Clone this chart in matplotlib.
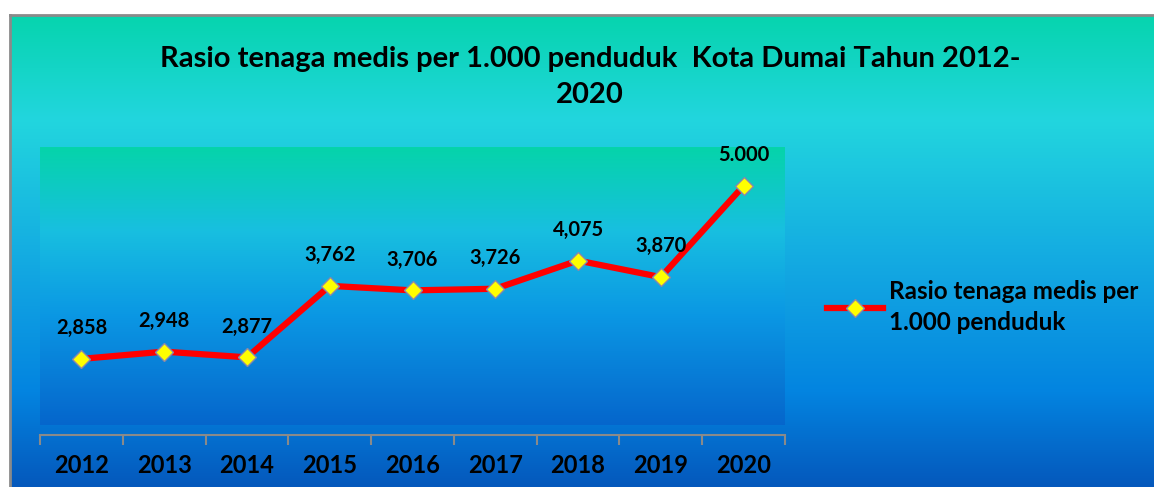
import matplotlib
matplotlib.use("Agg")
import matplotlib.pyplot as plt
import numpy as np
from matplotlib.colors import LinearSegmentedColormap

years = ["2012", "2013", "2014", "2015", "2016", "2017", "2018", "2019", "2020"]
rasio = [2.858, 2.948, 2.877, 3.762, 3.706, 3.726, 4.075, 3.870, 5.000]
labels = ["2,858", "2,948", "2,877", "3,762", "3,706", "3,726", "4,075", "3,870", "5.000"]
series_name = "Rasio tenaga medis per\n1.000 penduduk"
title = "Rasio tenaga medis per 1.000 penduduk  Kota Dumai Tahun 2012-\n2020"

plt.rcParams['font.family'] = ['Lato', 'DejaVu Sans']

W, H = 1154, 487
fig = plt.figure(figsize=(W / 100, H / 100), dpi=100)
fig.patch.set_facecolor("white")

# outer chart background gradient
outer = LinearSegmentedColormap.from_list("outer", [
    (0.0, "#06d4ae"), (0.22, "#22d6de"), (0.55, "#12a6e2"), (0.8, "#0384e0"), (1.0, "#0558bc")])
bg = fig.add_axes([10 / W, 0, 1 - 10 / W, (H - 15) / H])
bg.imshow(np.linspace(0, 1, 256).reshape(-1, 1), aspect="auto", cmap=outer,
          extent=[0, 1, 0, 1])
bg.set_xticks([])
bg.set_yticks([])
for s in bg.spines.values():
    s.set_color("#8a8a8a")
    s.set_linewidth(2)
bg.spines["right"].set_visible(False)
bg.spines["bottom"].set_visible(False)

# plot area
x0, x1, y0, y1 = 40, 785, 147, 425
ax = fig.add_axes([x0 / W, 1 - y1 / H, (x1 - x0) / W, (y1 - y0) / H])
inner = LinearSegmentedColormap.from_list("inner", [
    (0.0, "#05d4aa"), (0.3, "#18bfe0"), (0.6, "#0b98e4"), (1.0, "#0566cc")])
ax.imshow(np.linspace(0, 1, 256).reshape(-1, 1), aspect="auto", cmap=inner,
          extent=[-0.5, 8.5, 2.04, 5.48], zorder=0)

x = np.arange(len(years))
ax.plot(x, rasio, color="red", lw=4.5, marker="D", ms=9, mfc="yellow",
        mec="#8888aa", mew=1, zorder=3, label=series_name)
for xi, v, t in zip(x, rasio, labels):
    ax.annotate(t, (xi, v), xytext=(0, 15), textcoords="offset points",
                ha="center", va="bottom", fontsize=14.5, fontweight="bold", color="black")

ax.set_xlim(-0.5, 8.5)
ax.set_ylim(2.04, 5.48)
ax.set_yticks([])
ax.set_xticks(np.arange(-0.5, 9, 1))
ax.set_xticklabels([])
ax.tick_params(axis="x", which="major", length=7, width=1.5, color="#8a8a8a", direction="out")
for xi, yr in zip(x, years):
    ax.text(xi, -0.145, yr, transform=ax.get_xaxis_transform(), ha="center", va="center",
            fontsize=17, fontweight="bold", color="black")
for k in ["top", "right", "left"]:
    ax.spines[k].set_visible(False)
ax.spines["bottom"].set_position(("outward", 7))
ax.spines["bottom"].set_color("#8a8a8a")
ax.spines["bottom"].set_linewidth(1.5)

fig.text(590 / W, 1 - 77 / H, title, ha="center", va="center", fontsize=21,
         fontweight="bold", linespacing=1.45)

leg = fig.legend(loc="center left", bbox_to_anchor=(805 / W, 1 - 307 / H), frameon=False,
                 prop={"size": 17.5, "weight": "bold"}, handlelength=2.3, handletextpad=0.25)
for t in leg.get_texts():
    t.set_linespacing(1.45)

fig.savefig("out.png", dpi=100, facecolor=fig.get_facecolor())
